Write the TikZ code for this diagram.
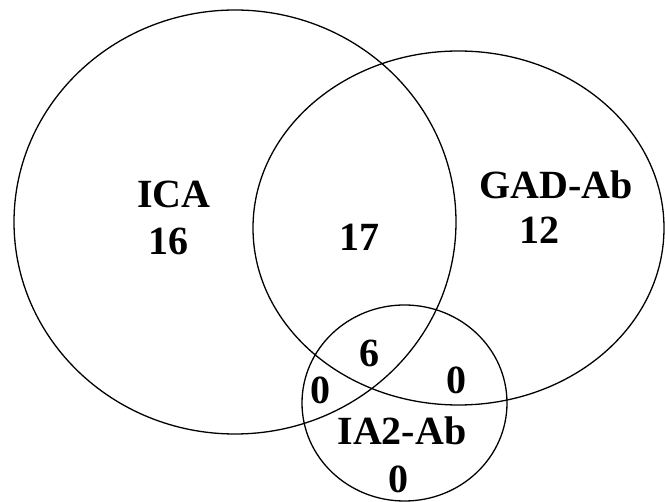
\documentclass[tikz,border=0pt]{standalone}
\usepackage{fontspec}
\setmainfont{Liberation Serif}
\begin{document}
\begin{tikzpicture}[x=1pt,y=-1pt,
  setline/.style={draw=black,line width=1.3pt},
  lbl/.style={inner sep=0pt,anchor=center,font=\fontsize{40}{40}\selectfont\bfseries}]
\useasboundingbox (0,0) rectangle (665,502);
% the three sets
\draw[setline] (235,222) ellipse [x radius=221, y radius=212];
\draw[setline] (458.5,228) ellipse [x radius=205.5, y radius=177];
\draw[setline] (404.5,403) ellipse [x radius=102.5, y radius=98];
% set names and counts
\node[lbl] (ica) at (174,194) {ICA};
\node[lbl] (ican) at (168,241) {16};
\node[lbl] (icagad) at (359.5,237) {17};
\node[lbl] (gad) at (556,185) {GAD-Ab};
\node[lbl] (gadn) at (539,230) {12};
\node[lbl] (all) at (369,353) {6};
\node[lbl] (icaia) at (320,390) {0};
\node[lbl] (gadia) at (456,380) {0};
\node[lbl] (ia) at (402,431) {IA2-Ab};
\node[lbl] (ian) at (398,479) {0};
\end{tikzpicture}
\end{document}
